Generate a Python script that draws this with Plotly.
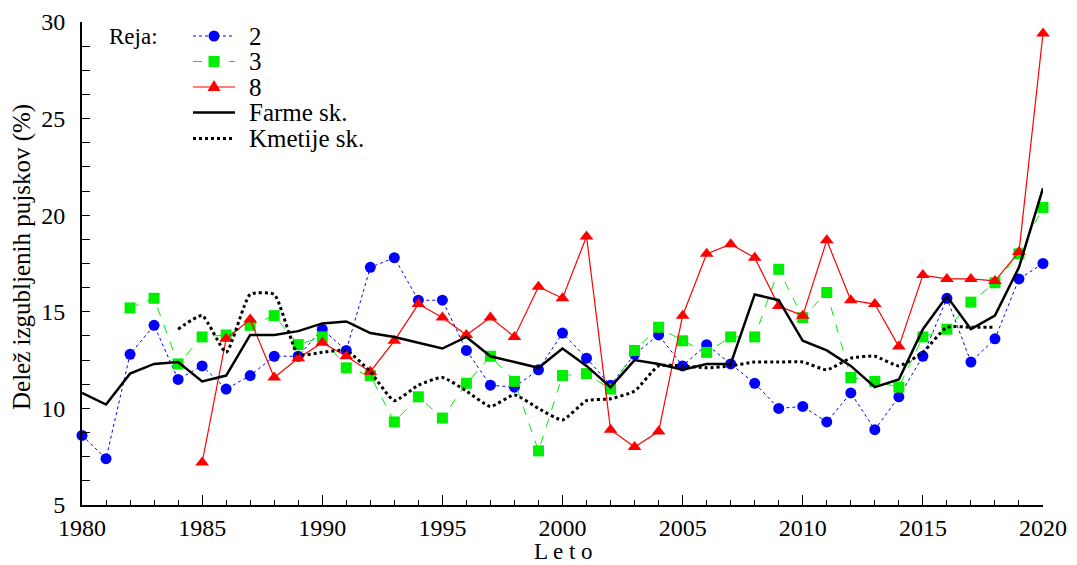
import plotly.graph_objects as go

years = list(range(1980, 2021))

reja2 = [8.6, 7.4, 12.8, 14.3, 11.5, 12.2, 11.0, 11.7, 12.7, 12.7,
         14.1, 13.0, 17.3, 17.8, 15.6, 15.6, 13.0, 11.2, 11.1, 12.0,
         13.9, 12.6, 11.2, 12.8, 13.8, 12.2, 13.3, 12.3, 11.3, 10.0,
         10.1, 9.3, 10.8, 8.9, 10.6, 12.7, 15.7, 12.4, 13.6, 16.7, 17.5]

years3 = list(range(1982, 2021))
reja3 = [15.2, 15.7, 12.3, 13.7, 13.8, 14.3, 14.8, 13.3,
         13.7, 12.1, 11.7, 9.3, 10.6, 9.5, 11.3, 12.7, 11.4, 7.8,
         11.7, 11.8, 11.0, 13.0, 14.2, 13.5, 12.9, 13.7, 13.7, 17.2,
         14.7, 16.0, 11.6, 11.4, 11.1, 13.7, 14.1, 15.5, 16.5, 18.0, 20.4]

years8 = list(range(1985, 2021))
reja8 = [7.2, 13.6, 14.6, 11.6, 12.6,
         13.4, 12.7, 11.9, 13.5, 15.4, 14.7, 13.8, 14.7, 13.7, 16.3,
         15.7, 18.9, 8.9, 8.0, 8.8, 14.8, 18.0, 18.5, 17.8, 15.3,
         14.8, 18.7, 15.6, 15.4, 13.2, 16.9, 16.7, 16.7, 16.6, 18.1, 29.4]

farme = [10.8, 10.2, 11.8, 12.3, 12.4, 11.4, 11.7, 13.8, 13.8, 14.0,
         14.4, 14.5, 13.9, 13.7, 13.4, 13.1, 13.7, 12.7, 12.4, 12.1,
         13.1, 12.2, 11.1, 12.5, 12.3, 12.0, 12.3, 12.3, 15.9, 15.6,
         13.5, 13.0, 12.2, 11.1, 11.5, 14.1, 15.8, 14.1, 14.8, 17.3, 21.4]

yearsK = list(range(1984, 2019))
kmetije = [14.1, 14.8, 12.9, 15.9, 15.9, 12.8,
           12.9, 13.0, 11.9, 10.4, 11.2, 11.6, 10.9, 10.1, 10.7, 10.0,
           9.4, 10.4, 10.5, 10.9, 12.2, 12.2, 12.1, 12.2, 12.4, 12.4,
           12.4, 12.0, 12.6, 12.7, 12.2, 12.9, 14.2, 14.2, 14.2]

legend_names = ["2", "3", "8", "Farme sk.", "Kmetije sk."]
legend_title = "Reja:"
x_title = "L e t o"
y_title = "Delež izgubljenih pujskov (%)"

FONT = "Liberation Serif"
W, H = 1077, 565
OFF = 8  # page body margin
# plot area in screen pixels: x 82..1043, y 22..505
ML, MT = 82 - OFF, 22 - OFF
MR = W - (1043 - OFF)
MB = H - (505 - OFF)
PW, PH = W - ML - MR, H - MT - MB


def px(sx):
    return (sx - OFF - ML) / PW


def py(sy):
    return (H - MB - (sy - OFF)) / PH


styles = [
    dict(color="#0000ff", width=1, dash="dot", symbol="circle", size=11),
    dict(color="#00ee00", width=1, dash="dash", symbol="square", size=11),
    dict(color="#ff0000", width=1.2, dash="solid", symbol="triangle-up", size=12),
    dict(color="black", width=2.5, dash="solid", symbol=None, size=0),
    dict(color="black", width=3, dash="dot", symbol=None, size=0),
]

fig = go.Figure()
series = [(years, reja2), (years3, reja3), (years8, reja8), (years, farme), (yearsK, kmetije)]
for (xs, ys), name, st in zip(series, legend_names, styles):
    line = dict(color=st["color"], width=st["width"], dash=st["dash"])
    if name == "Kmetije sk.":
        line.update(shape="spline", smoothing=0.5)
    if st["symbol"]:
        fig.add_trace(go.Scatter(x=xs, y=ys, name=name, mode="lines+markers", line=line,
                                 marker=dict(symbol=st["symbol"], size=st["size"], color=st["color"]),
                                 cliponaxis=False))
    else:
        fig.add_trace(go.Scatter(x=xs, y=ys, name=name, mode="lines", line=line))

# manual legend (screen pixel positions)
row_y = [36, 61.5, 87, 112.5, 138.5]
shapes = []
annotations = []
for i, (name, st) in enumerate(zip(legend_names, styles)):
    yy = py(row_y[i])
    shapes.append(dict(type="line", xref="paper", yref="paper", x0=px(193), x1=px(235), y0=yy, y1=yy,
                       line=dict(color=st["color"], width=st["width"], dash=st["dash"])))
    cx = px(214)
    if st["symbol"] == "circle":
        shapes.append(dict(type="circle", xref="paper", yref="paper", xsizemode="pixel", ysizemode="pixel",
                           xanchor=cx, yanchor=yy, x0=-5.5, x1=5.5, y0=-5.5, y1=5.5,
                           fillcolor=st["color"], line=dict(width=0)))
    elif st["symbol"] == "square":
        shapes.append(dict(type="rect", xref="paper", yref="paper", xsizemode="pixel", ysizemode="pixel",
                           xanchor=cx, yanchor=yy, x0=-5.5, x1=5.5, y0=-5.5, y1=5.5,
                           fillcolor=st["color"], line=dict(width=0)))
    elif st["symbol"] == "triangle-up":
        shapes.append(dict(type="path", xref="paper", yref="paper", xsizemode="pixel", ysizemode="pixel",
                           xanchor=cx, yanchor=yy, path="M -6.5 -4 L 6.5 -4 L 0 7 Z",
                           fillcolor=st["color"], line=dict(width=0)))
    annotations.append(dict(text=name, xref="paper", yref="paper", x=px(247), y=yy,
                            xanchor="left", yanchor="middle", showarrow=False,
                            font=dict(family=FONT, size=25, color="black")))
annotations.append(dict(text=legend_title, xref="paper", yref="paper", x=px(107), y=py(36),
                        xanchor="left", yanchor="middle", showarrow=False,
                        font=dict(family=FONT, size=23, color="black")))
annotations.append(dict(text=x_title, xref="paper", yref="paper", x=px(563), y=py(551),
                        xanchor="center", yanchor="middle", showarrow=False,
                        font=dict(family=FONT, size=23, color="black")))
annotations.append(dict(text=y_title, xref="paper", yref="paper", x=px(22), y=py(257),
                        xanchor="center", yanchor="middle", showarrow=False, textangle=-90,
                        font=dict(family=FONT, size=25, color="black")))

fig.update_layout(
    width=W, height=H,
    margin=dict(l=ML, r=MR, t=MT, b=MB, autoexpand=False),
    paper_bgcolor="white", plot_bgcolor="white",
    font=dict(family=FONT, size=24, color="black"),
    showlegend=False,
    shapes=shapes, annotations=annotations,
    xaxis=dict(range=[1980, 2020], showgrid=False, zeroline=False, automargin=False,
               showline=True, linecolor="black", linewidth=2,
               ticks="inside", tickcolor="black", ticklen=10, tickwidth=1,
               dtick=5, tick0=1980, ticklabelstandoff=0,
               minor=dict(ticks="inside", dtick=1, ticklen=5, tickcolor="black", tickwidth=1),
               tickfont=dict(family=FONT, size=24)),
    yaxis=dict(range=[5, 30], showgrid=False, zeroline=False, automargin=False,
               showline=True, linecolor="black", linewidth=2,
               ticks="inside", tickcolor="black", ticklen=8, tickwidth=1,
               dtick=5, tick0=5, ticklabelstandoff=10,
               minor=dict(ticks="inside", dtick=1.25, ticklen=8, tickcolor="black", tickwidth=1),
               tickfont=dict(family=FONT, size=24)),
)

fig.write_html("out.html")
